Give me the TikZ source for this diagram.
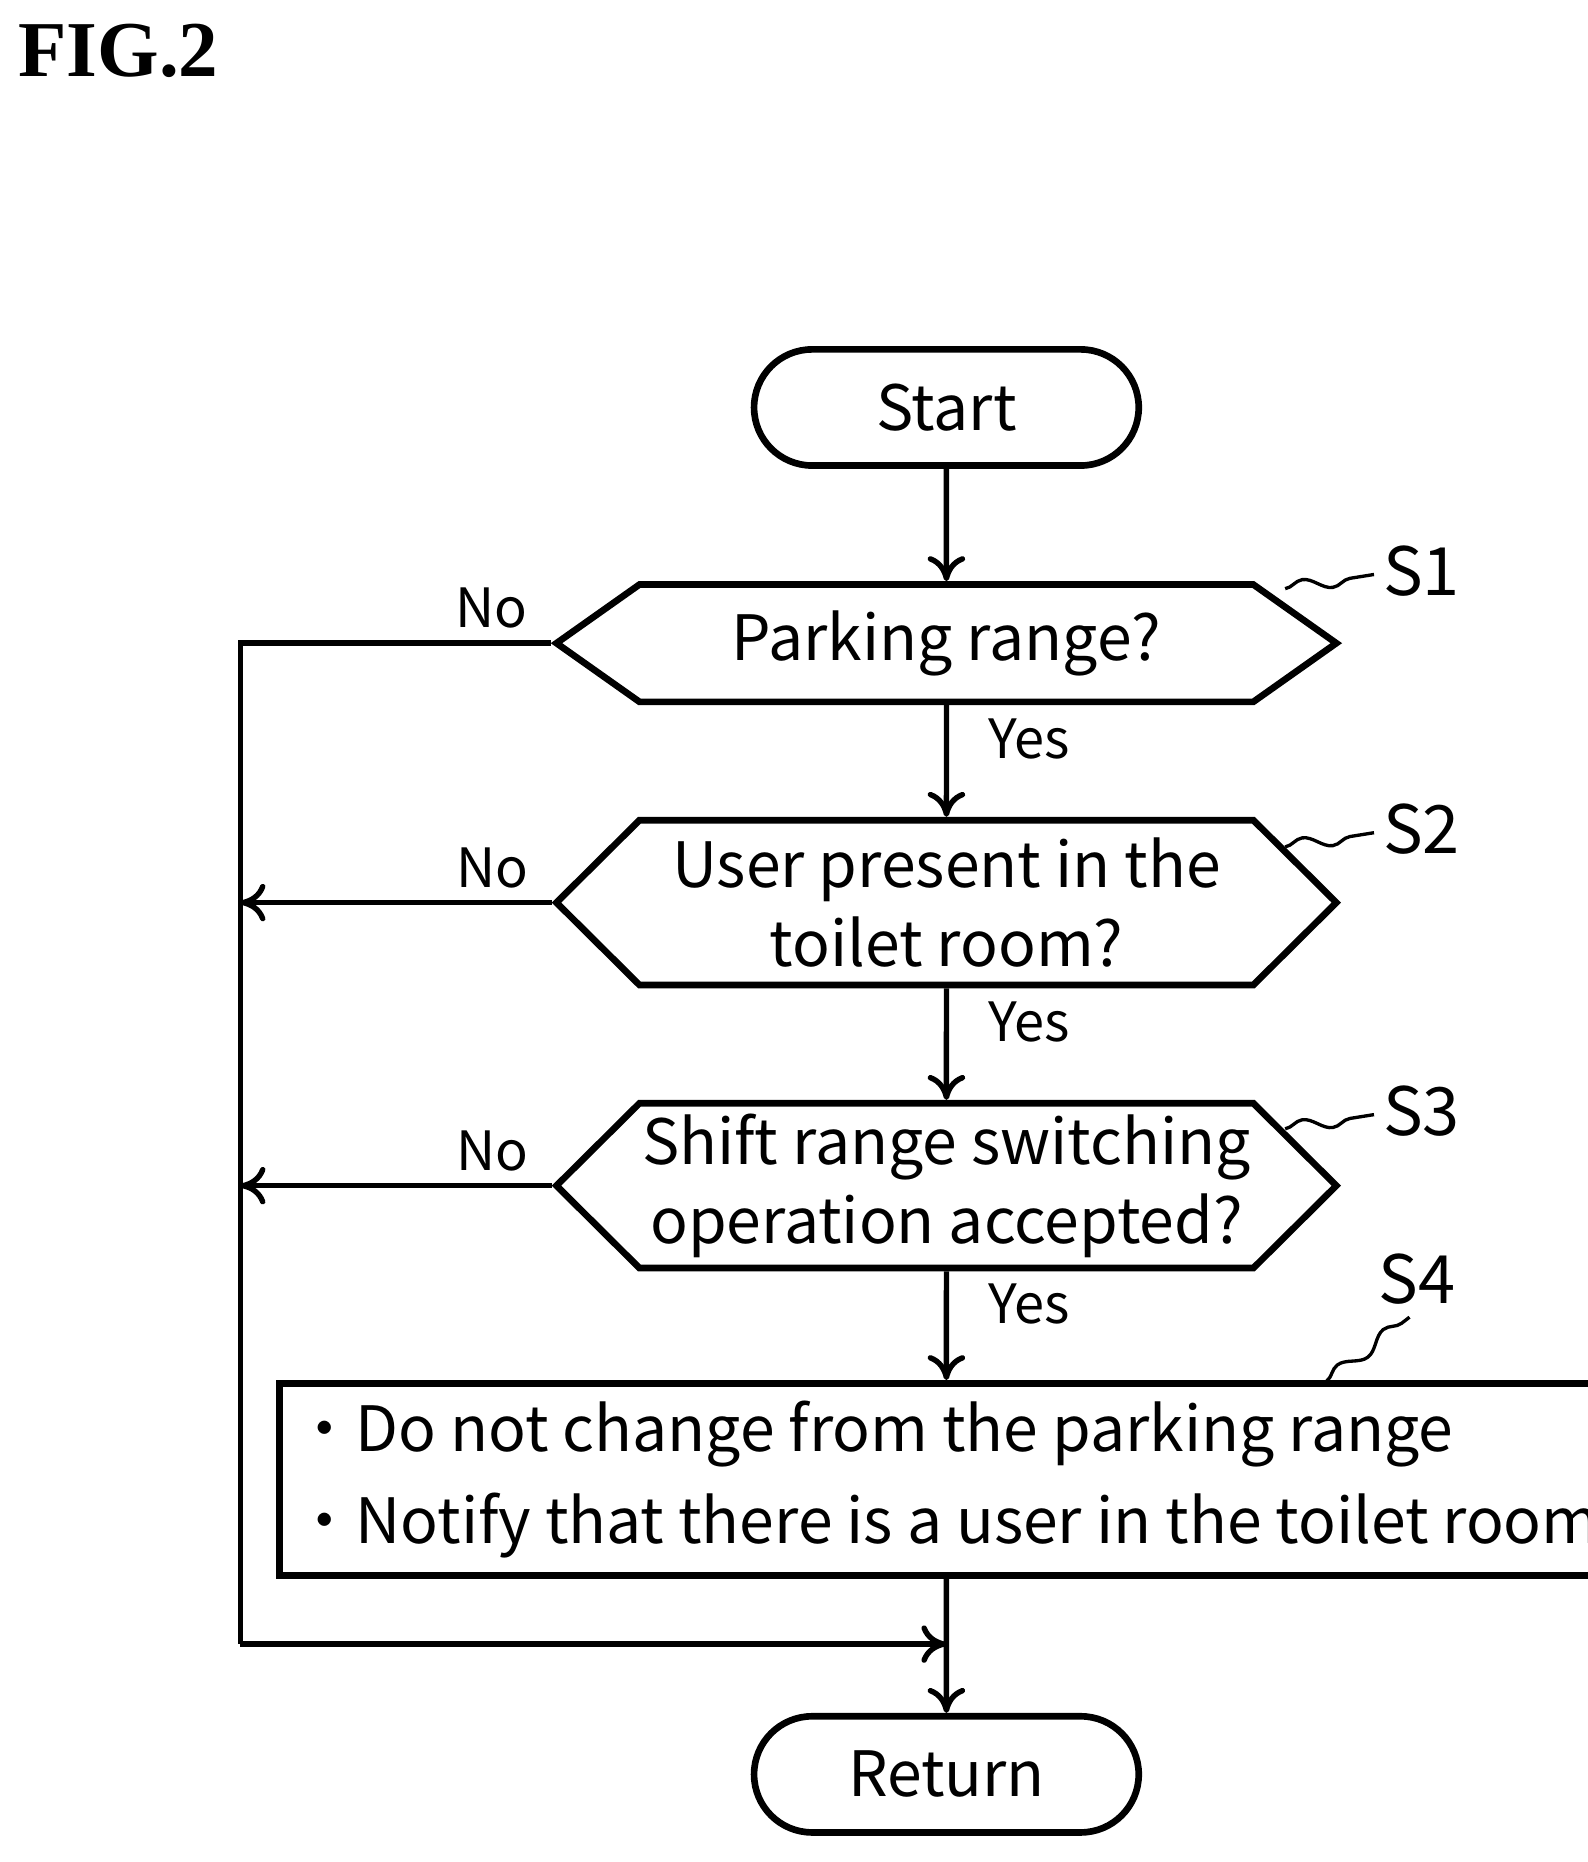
\documentclass[tikz,border=0pt]{standalone}
\usepackage{fontspec}
\setmainfont{Noto Sans CJK JP}
\newfontfamily\figfont{Liberation Serif}
\usetikzlibrary{positioning,arrows.meta,shapes.symbols,shapes.misc,decorations.pathmorphing}
\begin{document}
\begin{tikzpicture}[x=0.01cm,y=-0.01cm,
        term/.style={rounded rectangle, draw, line width=1.6pt, minimum width=3.48cm, minimum height=0.98cm, font=\fontsize{15}{18}\selectfont},
        decision/.style={signal, signal to=east and west, draw, line width=1.6pt, minimum width=6.58cm, align=center, inner sep=0pt, font=\fontsize{15}{19}\selectfont},
        process/.style={draw, line width=1.6pt, minimum width=10.36cm, minimum height=1.62cm, align=left, font=\fontsize{15}{22}\selectfont},
        flow/.style={draw, line width=1.3pt, -{To[length=6pt,width=9pt]}},
        lbl/.style={font=\fontsize{13}{15}\selectfont},
        steplbl/.style={font=\fontsize{16}{18}\selectfont},
        wave/.style={draw, line width=0.8pt, decorate, decoration={snake, amplitude=1.5pt, segment length=14pt}}
    ]
        \useasboundingbox (0,0) rectangle (1340,1572);
        \node[font=\figfont\fontsize{19}{22}\selectfont\bfseries] (fig) at (100,43) {FIG.2};

        % Nodes
        \node[term] (start) at (799,344) {Start};
        \node[decision, minimum height=0.99cm, signal pointer angle=70.5] (s1) at (799,543) {Parking range?};
        \node[decision, minimum height=1.39cm, signal pointer angle=89.6] (s2) at (799,762) {User present in the\\toilet room?};
        \node[decision, minimum height=1.39cm, signal pointer angle=89.6] (s3) at (799,1001) {Shift range switching\\operation accepted?};
        \node[process] (s4) at (799,1249) {・Do not change from the parking range\\・Notify that there is a user in the toilet room};
        \node[term] (ret) at (799,1498) {Return};
        \coordinate (c1) at (203,543);
        \coordinate (c2) at (203,762);
        \coordinate (c3) at (203,1001);
        \coordinate (c4) at (203,1388);
        \coordinate (c5) at (799,1388);

        % Step labels
        \node[steplbl] (l1) at (1200,482) {S1};
        \node[steplbl] (l2) at (1200,700) {S2};
        \node[steplbl] (l3) at (1200,938) {S3};
        \node[steplbl] (l4) at (1196,1080) {S4};
        \draw[wave] (1085,497) -- (1160,485);
        \draw[wave] (1085,715) -- (1160,703);
        \draw[wave] (1085,953) -- (1160,941);
        \draw[wave] (1120,1166) -- (1190,1112);

        % Edges
        \draw[flow] (start) -- (s1);
        \draw[flow] (s1) -- (s2) node[lbl, pos=0.3, right=6pt] {Yes};
        \draw[flow] (s2) -- (s3) node[lbl, pos=0.3, right=6pt] {Yes};
        \draw[flow] (s3) -- (s4) node[lbl, pos=0.3, right=6pt] {Yes};
        \draw[flow] (s4) -- (ret);
        \draw[line width=1.3pt] (s1.west) -- (c1) -- (c4);
        \draw[flow] (c4) -- (c5);
        \draw[flow] (s2.west) -- (c2);
        \draw[flow] (s3.west) -- (c3);
        \node[lbl, above left=0pt and 2pt of s1.west] (n1) {No};
        \node[lbl, above left=0pt and 2pt of s2.west] (n2) {No};
        \node[lbl, above left=0pt and 2pt of s3.west] (n3) {No};
    \end{tikzpicture}
\end{document}
